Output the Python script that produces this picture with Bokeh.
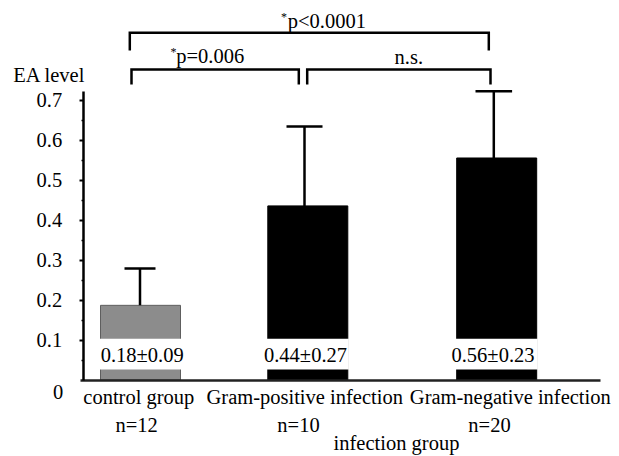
from bokeh.plotting import figure
from bokeh.models import Range1d, LinearAxis, FixedTicker, ColumnDataSource
from bokeh.core.properties import value
from bokeh.embed import file_html
from bokeh.resources import INLINE

# ---------------- data ----------------
groups = ["control group", "Gram-positive infection", "Gram-negative infection"]
n_labels = ["n=12", "n=10", "n=20"]
means = [0.187, 0.436, 0.556]          # bar heights
err_tops = [0.279, 0.635, 0.723]       # top of the upper error whisker
mean_labels = ["0.18\u00b10.09", "0.44\u00b10.27", "0.56\u00b10.23"]
bar_colors = ["#8c8c8c", "#000000", "#000000"]
bar_line_colors = ["#5e5e5e", "#000000", "#000000"]
y_ticks = [0.1, 0.2, 0.3, 0.4, 0.5, 0.6, 0.7]
y_tick_labels = ["0.1", "0.2", "0.3", "0.4", "0.5", "0.6", "0.7"]
y_minor = [0.05, 0.15, 0.25, 0.35, 0.45, 0.55, 0.65]
zero_label = "0"
y_title = "EA level"
x_title = "infection group"
comp_texts = ["p<0.0001", "p=0.006", "n.s."]
comp_star = ["*", "*"]

# ---------------- layout ----------------
W, H = 617, 455
Y0_PAGE = 379.5
PX_PER_UNIT = 399.3
MID = 7.0  # baseline -> middle shift for 20.5px text


def yv(page_y):
    return (Y0_PAGE - page_y) / PX_PER_UNIT


def ym(baseline_y, shift=MID):
    return yv(baseline_y - shift)


FONT = value("Liberation Serif")
FS = value("20.5px")
TXT = dict(text_font=FONT, text_font_size=FS, text_baseline="middle", text_color="black")

bar_x = [140.0, 307.3, 496.2]
bar_w = 80
err_x = [139.5, 304.0, 493.3]
cap_half = [15.5, 18.0, 18.3]
band_lo, band_hi = yv(369.0), yv(338.3)

p = figure(width=W, height=H,
           x_range=Range1d(0, W), y_range=Range1d(yv(H), yv(0)),
           x_axis_type=None, y_axis_type=None,
           toolbar_location=None, output_backend="svg",
           min_border=0, outline_line_color=None,
           background_fill_color="white", border_fill_color="white")

# bars
src = ColumnDataSource(dict(x=bar_x, top=means, color=bar_colors, lc=bar_line_colors))
p.vbar(x="x", top="top", bottom=0, width=bar_w, source=src,
       fill_color="color", line_color="lc", line_width=1)
# white band behind the value labels
p.vbar(x=bar_x, top=band_hi, bottom=band_lo, width=bar_w + 2,
       fill_color="white", line_color=None)

# error bars (upper only)
p.segment(x0=err_x, y0=means, x1=err_x, y1=err_tops, line_color="black", line_width=2.5)
p.segment(x0=[x - h for x, h in zip(err_x, cap_half)], y0=err_tops,
          x1=[x + h for x, h in zip(err_x, cap_half)], y1=err_tops,
          line_color="black", line_width=2.5)

# value labels inside bars
p.text(x=[141.7, 305.0, 492.5], y=[ym(361.5)] * 3, text=mean_labels,
       text_align="center", **TXT)

# category labels
p.text(x=[138.3, 304.2, 509.8], y=[ym(403.3)] * 3, text=groups,
       text_align="center", **TXT)
p.text(x=[136.2, 298.0, 489.0], y=[ym(431.0)] * 3, text=n_labels,
       text_align="center", **TXT)
p.text(x=[396.0], y=[ym(449.0)], text=[x_title], text_align="center", **TXT)

# y title and zero label
p.text(x=[12.7], y=[ym(81.0)], text=[y_title], text_align="left", **TXT)
p.text(x=[62.7], y=[ym(398.3)], text=[zero_label], text_align="right", **TXT)

# significance brackets
br = [(129.3, 488.3, 32.3, 50.0), (131.0, 298.3, 69.0, 84.0), (306.7, 490.0, 69.0, 84.0)]
xs = [[a, a, b, b] for a, b, t, l in br]
ys = [[yv(l), yv(t), yv(t), yv(l)] for a, b, t, l in br]
p.multi_line(xs=xs, ys=ys, line_color="black", line_width=2.5, line_join="miter")

p.text(x=[287.3, 175.7], y=[ym(27.0), ym(62.0)], text=comp_texts[:2],
       text_align="left", **TXT)
p.text(x=[408.3], y=[ym(63.0)], text=comp_texts[2:], text_align="center", **TXT)
p.text(x=[280.5, 170.0], y=[ym(20.0, 4.0), ym(55.5, 4.0)], text=comp_star,
       text_font=FONT, text_font_size=value("12px"), text_align="left",
       text_baseline="middle", text_color="black")

# axes
yax = LinearAxis(fixed_location=82.7, bounds=(0, 0.7225),
                 ticker=FixedTicker(ticks=y_ticks, minor_ticks=y_minor),
                 major_label_overrides={t: l for t, l in zip(y_ticks, y_tick_labels)},
                 axis_line_color="black", axis_line_width=2.5,
                 major_tick_line_color="black", major_tick_line_width=2,
                 major_tick_out=4, major_tick_in=0,
                 minor_tick_line_color="black", minor_tick_line_width=1.5,
                 minor_tick_out=2, minor_tick_in=0,
                 major_label_standoff=17,
                 major_label_text_font="Liberation Serif",
                 major_label_text_font_size="20.5px",
                 major_label_text_color="black")
p.add_layout(yax, "left")

xax = LinearAxis(fixed_location=0, bounds=(79.5, 600),
                 ticker=FixedTicker(ticks=[]),
                 axis_line_color="#222222", axis_line_width=2.5,
                 major_tick_line_color=None, minor_tick_line_color=None,
                 major_label_text_font_size="0px")
p.add_layout(xax, "below")

open("out.html", "w").write(file_html(p, INLINE))
